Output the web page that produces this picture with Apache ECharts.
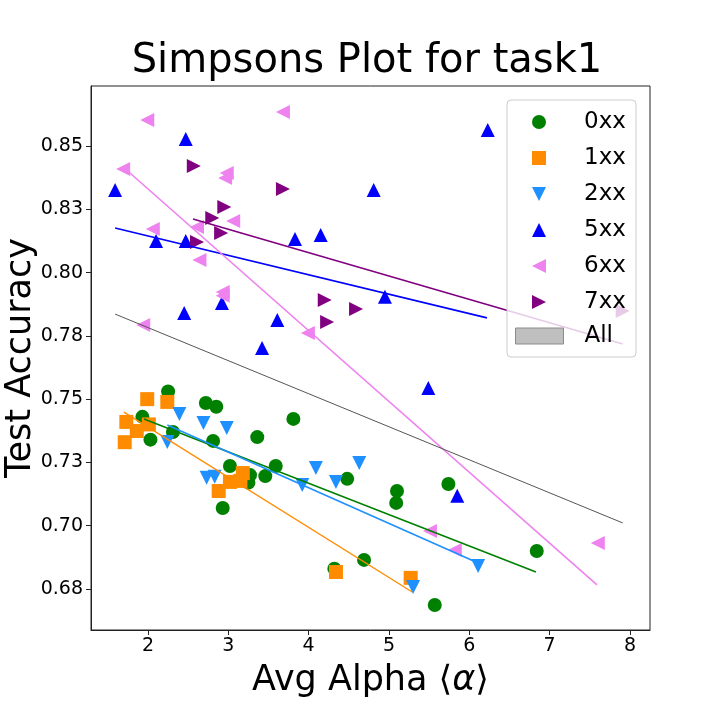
<!DOCTYPE html>
<html>
<head>
<meta charset="utf-8">
<script src="https://cdn.jsdelivr.net/npm/echarts@6/dist/echarts.min.js"></script>
<style>
  html, body { margin: 0; padding: 0; background: #fff; }
  #chart { width: 720px; height: 720px; }
</style>
</head>
<body>
<div id="chart"></div>
<script>
// points per group: [avg alpha, test accuracy]
var g0xx = [[1.93, 0.743], [2.03, 0.734], [2.25, 0.753], [2.31, 0.737], [2.72, 0.7485], [2.85, 0.747],
  [2.81, 0.7335], [3.02, 0.7236], [2.93, 0.707], [3.27, 0.720], [3.25, 0.717], [3.46, 0.7196],
  [3.59, 0.7236], [3.81, 0.7422], [3.36, 0.735], [4.48, 0.7185], [5.10, 0.7137], [5.09, 0.709],
  [5.74, 0.7165], [6.84, 0.690], [5.57, 0.6687], [4.69, 0.6865], [4.32, 0.683]];
var g1xx = [[1.73, 0.741], [1.71, 0.733], [1.86, 0.7374], [1.99, 0.750], [2.24, 0.7489], [2.01, 0.740],
  [2.88, 0.7137], [3.02, 0.7173], [3.15, 0.7177], [3.18, 0.7208], [4.34, 0.6817], [5.27, 0.6794]];
var g2xx = [[2.39, 0.7441], [2.69, 0.7406], [2.98, 0.7386], [2.24, 0.7331], [2.73, 0.7189], [2.83, 0.7193],
  [3.92, 0.7161], [4.09, 0.7228], [4.34, 0.7173], [4.63, 0.7248], [5.30, 0.6758], [6.11, 0.6841]];
var g5xx = [[1.59, 0.8326], [2.47, 0.8528], [2.10, 0.8125], [2.47, 0.8125], [2.45, 0.784], [2.92, 0.788],
  [3.61, 0.7813], [3.42, 0.7702], [3.83, 0.8133], [4.15, 0.8148], [4.81, 0.8326], [4.95, 0.7904],
  [5.49, 0.7544], [5.85, 0.7118], [6.23, 0.8563]];
var g6xx = [[1.99, 0.8603], [3.68, 0.8634], [1.69, 0.8409], [2.98, 0.8393], [2.96, 0.8374], [3.06, 0.8204],
  [2.06, 0.8172], [2.61, 0.818], [2.64, 0.805], [2.93, 0.7923], [2.93, 0.7908], [1.94, 0.7793],
  [3.99, 0.7761], [5.51, 0.6979], [5.82, 0.6904], [7.60, 0.6932]];
var g7xx = [[2.57, 0.8421], [3.68, 0.833], [2.95, 0.8259], [2.80, 0.8216], [2.91, 0.8156], [2.61, 0.8121],
  [4.20, 0.7892], [4.59, 0.7856], [4.23, 0.7805], [7.91, 0.7848]];

// fitted lines: [start, end]
var fit0xx = [[1.95, 0.7422], [6.83, 0.6817]];
var fit1xx = [[1.70, 0.7449], [5.29, 0.6738]];
var fit2xx = [[2.24, 0.7398], [6.11, 0.6853]];
var fit5xx = [[1.59, 0.8176], [6.22, 0.7821]];
var fit6xx = [[1.69, 0.8417], [7.59, 0.6766]];
var fit7xx = [[2.56, 0.8212], [7.91, 0.7718]];
var fitAll = [[1.59, 0.7836], [7.91, 0.7011]];

var xTicks = [2, 3, 4, 5, 6, 7, 8];
var yTicks = [0.675, 0.7, 0.725, 0.75, 0.775, 0.8, 0.825, 0.85];
var yTickLabels = ['0.68', '0.70', '0.73', '0.75', '0.78', '0.80', '0.83', '0.85'];

var FONT = 'DejaVu Sans';
var chart = echarts.init(document.getElementById('chart'));

var groups = [
  {name: '0xx', data: g0xx, fit: fit0xx, color: '#008000', symbol: 'circle', lw: 1.6},
  {name: '1xx', data: g1xx, fit: fit1xx, color: '#ff8c00', symbol: 'rect', lw: 1.4},
  {name: '2xx', data: g2xx, fit: fit2xx, color: '#1e90ff', symbol: 'path://M0,0L2,0L1,2Z', lw: 1.6},
  {name: '5xx', data: g5xx, fit: fit5xx, color: '#0000ff', symbol: 'path://M1,0L2,2L0,2Z', lw: 1.6},
  {name: '6xx', data: g6xx, fit: fit6xx, color: '#ee82ee', symbol: 'path://M2,0L2,2L0,1Z', lw: 1.6},
  {name: '7xx', data: g7xx, fit: fit7xx, color: '#800080', symbol: 'path://M0,0L2,1L0,2Z', lw: 1.6}
];

var series = [];
groups.forEach(function (g) {
  series.push({
    name: g.name,
    type: 'scatter',
    data: g.data,
    symbol: g.symbol,
    symbolSize: 14,
    itemStyle: {color: g.color, opacity: 1},
    z: 2
  });
});
groups.forEach(function (g) {
  series.push({
    name: g.name + ' fit',
    type: 'line',
    data: g.fit,
    showSymbol: false,
    lineStyle: {color: g.color, width: g.lw},
    z: 3
  });
});
series.push({
  name: 'All',
  type: 'line',
  data: fitAll,
  showSymbol: false,
  lineStyle: {color: '#555555', width: 1},
  itemStyle: {color: '#555555'},
  z: 3
});

var option = {
  animation: false,
  backgroundColor: '#fff',
  textStyle: {fontFamily: FONT},
  title: {
    text: 'Simpsons Plot for task1',
    left: 362,
    textAlign: 'center',
    top: 37,
    textStyle: {fontFamily: FONT, fontSize: 40, fontWeight: 'normal', color: '#000'}
  },
  grid: {left: 91, right: 70, top: 86, bottom: 90, show: true, borderColor: '#222', borderWidth: 1, outerBoundsMode: 'none'},
  xAxis: {
    type: 'value',
    min: 1.29,
    max: 8.25,
    name: 'Avg Alpha ⟨{i|α}⟩',
    nameLocation: 'middle',
    nameGap: 33,
    nameMoveOverlap: false,
    nameTextStyle: {fontFamily: FONT, fontSize: 35, color: '#000',
      rich: {i: {fontFamily: FONT, fontSize: 35, fontStyle: 'italic', color: '#000'}}},
    axisLine: {show: true, lineStyle: {color: '#222'}},
    axisTick: {show: true, length: 5, lineStyle: {color: '#222'}, customValues: xTicks},
    axisLabel: {fontFamily: FONT, fontSize: 19, color: '#000', margin: 7, customValues: xTicks},
    splitLine: {show: false}
  },
  yAxis: {
    type: 'value',
    min: 0.6588,
    max: 0.8737,
    name: 'Test Accuracy',
    nameLocation: 'middle',
    nameGap: 53,
    nameMoveOverlap: false,
    nameTextStyle: {fontFamily: FONT, fontSize: 35, color: '#000'},
    axisLine: {show: true, lineStyle: {color: '#222'}},
    axisTick: {show: true, length: 5, lineStyle: {color: '#222'}, customValues: yTicks},
    axisLabel: {
      fontFamily: FONT, fontSize: 19, color: '#000', margin: 8, customValues: yTicks,
      formatter: function (v) {
        var best = 0;
        yTicks.forEach(function (t, i) {
          if (Math.abs(t - v) < Math.abs(yTicks[best] - v)) best = i;
        });
        return yTickLabels[best];
      }
    },
    splitLine: {show: false}
  },
  graphic: [{
    type: 'rect',
    shape: {x: 507, y: 100, width: 129, height: 257, r: 4},
    style: {fill: 'rgba(255,255,255,0.8)', stroke: '#cccccc', lineWidth: 1},
    z: 10
  }],
  legend: [{
    data: ['0xx', '1xx', '2xx', '5xx', '6xx', '7xx'],
    orient: 'vertical',
    left: 527,
    top: 105,
    itemWidth: 14,
    itemHeight: 14,
    itemGap: 12,
    z: 20,
    textStyle: {fontFamily: FONT, fontSize: 23, lineHeight: 24, color: '#000', padding: [0, 0, 0, 33]}
  }, {
    data: [{name: 'All', icon: 'rect', itemStyle: {color: '#bfbfbf', borderColor: '#8c8c8c', borderWidth: 1}}],
    orient: 'vertical',
    left: 510,
    top: 319,
    itemWidth: 48,
    itemHeight: 16,
    z: 20,
    textStyle: {fontFamily: FONT, fontSize: 23, lineHeight: 24, color: '#000', padding: [0, 0, 0, 16]}
  }],
  series: series
};

chart.setOption(option);
</script>
</body>
</html>
